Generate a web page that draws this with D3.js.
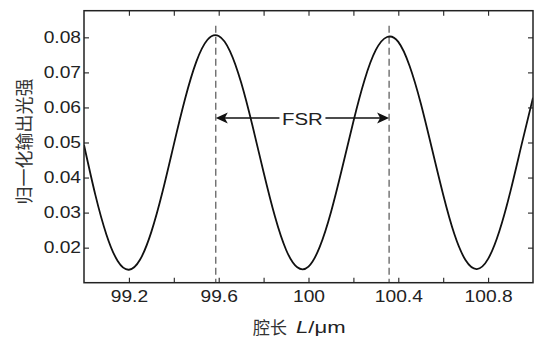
<!DOCTYPE html>
<html>
<head>
<meta charset="utf-8">
<script src="https://cdn.jsdelivr.net/npm/d3@7"></script>
<style>
  html, body { margin: 0; padding: 0; background: #fff; }
  svg { display: block; }
</style>
</head>
<body>
<svg id="chart" width="538" height="337"></svg>
<script>
// Cavity length (µm) and normalised transmitted intensity
const cavityLength = [
  99.00, 99.05, 99.10, 99.15, 99.20, 99.25, 99.30, 99.35, 99.40, 99.45,
  99.50, 99.55, 99.60, 99.65, 99.70, 99.75, 99.80, 99.85, 99.90, 99.95,
  100.00, 100.05, 100.10, 100.15, 100.20, 100.25, 100.30, 100.35, 100.40, 100.45,
  100.50, 100.55, 100.60, 100.65, 100.70, 100.75, 100.80, 100.85, 100.90, 100.95,
  101.00
];
const intensity = [
  0.0493, 0.0352, 0.0237, 0.0162, 0.0137, 0.0166, 0.0245, 0.0360, 0.0494, 0.0624,
  0.0730, 0.0793, 0.0804, 0.0761, 0.0671, 0.0549, 0.0415, 0.0290, 0.0194, 0.0144,
  0.0146, 0.0202, 0.0301, 0.0427, 0.0560, 0.0679, 0.0764, 0.0801, 0.0787, 0.0719,
  0.0612, 0.0482, 0.0351, 0.0238, 0.0164, 0.0139, 0.0168, 0.0247, 0.0362, 0.0496,
  0.0628
];
// Neighbouring transmission peaks marking one free spectral range
const peakPositions = [99.587, 100.359];
const fsrLevel = 0.0570;
const fsrLabel = "FSR";

const xTickLabels = [99.2, 99.6, 100.0, 100.4, 100.8];
const xMinorTicks = [99.2, 99.4, 99.6, 99.8, 100.0, 100.2, 100.4, 100.6, 100.8];
const yTickLabels = [0.02, 0.03, 0.04, 0.05, 0.06, 0.07, 0.08];

const xTitleCJK = "腔长";
const xTitleSymbol = "L";
const xTitleUnit = "/μm";
const yTitle = "归一化输出光强";

const LATIN = "'Liberation Sans', Arial, sans-serif";
const CJK = "'Noto Sans CJK SC', sans-serif";

const svg = d3.select("#chart");
const plotL = 84, plotR = 533, plotT = 10.7, plotB = 282.7;
const stretch = 1.2;   // wide glyphs for numeric labels

const x = d3.scaleLinear().domain([99, 101]).range([plotL, plotR]);
const y = d3.scaleLinear().domain([0.01, 0.0876]).range([plotB, plotT]);

svg.append("defs").append("clipPath").attr("id", "plotClip")
  .append("rect").attr("x", plotL).attr("y", plotT)
  .attr("width", plotR - plotL).attr("height", plotB - plotT);

// Inward tick marks on all four sides
const tickLen = 5;
svg.append("g").attr("transform", `translate(0,${plotB})`)
  .call(d3.axisBottom(x).tickValues(xMinorTicks).tickSizeInner(-tickLen).tickSizeOuter(0).tickFormat(""))
  .call(g => g.select(".domain").remove());
svg.append("g").attr("transform", `translate(0,${plotT})`)
  .call(d3.axisTop(x).tickValues(xMinorTicks).tickSizeInner(-tickLen).tickSizeOuter(0).tickFormat(""))
  .call(g => g.select(".domain").remove());
svg.append("g").attr("transform", `translate(${plotL},0)`)
  .call(d3.axisLeft(y).tickValues(yTickLabels).tickSizeInner(-tickLen).tickSizeOuter(0).tickFormat(""))
  .call(g => g.select(".domain").remove());
svg.append("g").attr("transform", `translate(${plotR},0)`)
  .call(d3.axisRight(y).tickValues(yTickLabels).tickSizeInner(-tickLen).tickSizeOuter(0).tickFormat(""))
  .call(g => g.select(".domain").remove());
svg.selectAll(".tick line").attr("stroke", "#222").attr("stroke-width", 1.1);

// Tick labels
const xLab = svg.append("g").attr("transform", `translate(0,${plotB})`)
  .call(d3.axisBottom(x).tickValues(xTickLabels).tickSize(0).tickPadding(8)
    .tickFormat(d => d3.format("~g")(d)));
xLab.select(".domain").remove();
xLab.attr("font-family", LATIN).attr("font-size", 16);
xLab.selectAll("text")
  .attr("fill", "#222")
  .attr("transform", `scale(${stretch},1)`);

const yLab = svg.append("g").attr("transform", `translate(${plotL},0)`)
  .call(d3.axisLeft(y).tickValues(yTickLabels).tickSize(0).tickPadding(3)
    .tickFormat(d3.format(".2f")));
yLab.select(".domain").remove();
yLab.attr("font-family", LATIN).attr("font-size", 16);
yLab.selectAll("text")
  .attr("fill", "#222")
  .attr("x", -3 / stretch).attr("transform", `scale(${stretch},1)`);

// Peak markers
svg.append("g").selectAll("line").data(peakPositions).join("line")
  .attr("x1", d => x(d)).attr("x2", d => x(d))
  .attr("y1", y(0.0833)).attr("y2", plotB)
  .attr("stroke", "#555").attr("stroke-width", 1.2).attr("stroke-dasharray", "7,4");

// Transmission curve
const line = d3.line()
  .x((d, i) => x(cavityLength[i]))
  .y(d => y(d))
  .curve(d3.curveNatural);
svg.append("path").datum(intensity)
  .attr("clip-path", "url(#plotClip)")
  .attr("d", line)
  .attr("fill", "none").attr("stroke", "#111").attr("stroke-width", 1.8);

// FSR double arrow
const ay = y(fsrLevel);
const ax1 = x(peakPositions[0]), ax2 = x(peakPositions[1]);
const labelX = (ax1 + ax2) / 2;
const gapHalf = 23;
const arrowG = svg.append("g");
arrowG.append("line").attr("x1", ax1 + 8).attr("x2", labelX - gapHalf)
  .attr("y1", ay).attr("y2", ay).attr("stroke", "#111").attr("stroke-width", 1.4);
arrowG.append("line").attr("x1", labelX + gapHalf).attr("x2", ax2 - 8)
  .attr("y1", ay).attr("y2", ay).attr("stroke", "#111").attr("stroke-width", 1.4);
const head = (tip, dir) => {
  const L = 12, W = 5.5, notch = 3;
  return `M${tip},${ay} L${tip + dir * L},${ay - W} L${tip + dir * (L - notch)},${ay} L${tip + dir * L},${ay + W} Z`;
};
arrowG.append("path").attr("d", head(ax1, 1)).attr("fill", "#111");
arrowG.append("path").attr("d", head(ax2, -1)).attr("fill", "#111");
arrowG.append("text")
  .attr("font-family", LATIN)
  .attr("x", labelX / stretch).attr("y", ay + 6.8)
  .attr("transform", `scale(${stretch},1)`)
  .attr("text-anchor", "middle").attr("font-size", 17).attr("fill", "#222")
  .text(fsrLabel);

// Plot frame
svg.append("rect").attr("x", plotL).attr("y", plotT)
  .attr("width", plotR - plotL).attr("height", plotB - plotT)
  .attr("fill", "none").attr("stroke", "#222").attr("stroke-width", 1.5);

// Axis titles
svg.append("text")
  .attr("x", 253).attr("y", 333.5)
  .attr("font-family", CJK).attr("font-size", 17).attr("fill", "#333")
  .text(xTitleCJK);
const unitText = svg.append("text")
  .attr("font-family", LATIN)
  .attr("x", 296 / 1.3).attr("y", 333.3)
  .attr("transform", "scale(1.3,1)")
  .attr("font-size", 17).attr("fill", "#222");
unitText.append("tspan").attr("font-style", "italic").text(xTitleSymbol);
unitText.append("tspan").text(xTitleUnit);

svg.append("text")
  .attr("transform", "translate(22.5,141.5) rotate(-90)")
  .attr("text-anchor", "middle").attr("dominant-baseline", "central")
  .attr("font-family", CJK).attr("font-size", 18).attr("fill", "#333")
  .text(yTitle);
</script>
</body>
</html>
